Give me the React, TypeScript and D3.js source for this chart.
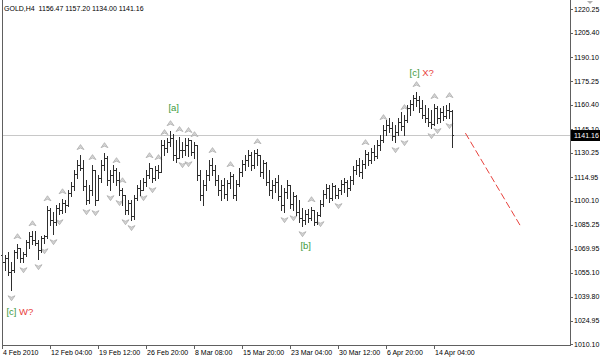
import * as d3 from "d3";

// GOLD H4 bars (open of each bar = close of the bar before)
const firstOpen = 1066.0;
const highs = [
  1069.1, 1066.0, 1067.9, 1061.6, 1069.1, 1072.9, 1070.4, 1067.9, 1075.4, 1080.4,
  1081.0, 1081.0, 1075.4, 1077.9, 1078.5, 1096.7, 1095.5, 1093.0, 1097.4, 1098.6,
  1101.1, 1100.5, 1106.8, 1111.8, 1119.4, 1125.6, 1128.8, 1125.6, 1113.1, 1109.9,
  1122.5, 1119.4, 1116.2, 1125.6, 1130.0, 1128.1, 1119.4, 1122.5, 1120.6, 1118.1,
  1108.0, 1103.7, 1100.5, 1100.5, 1103.7, 1109.9, 1113.1, 1114.3, 1119.4, 1123.7,
  1120.6, 1121.9, 1122.5, 1138.2, 1138.2, 1139.5, 1143.8, 1142.0, 1138.2, 1140.1,
  1136.9, 1139.5, 1139.5, 1138.2, 1136.9, 1135.1, 1119.4, 1113.1, 1119.4, 1125.6,
  1126.9, 1122.5, 1116.2, 1113.1, 1114.3, 1113.1, 1118.1, 1116.8, 1113.1, 1120.6,
  1125.6, 1128.8, 1131.9, 1130.7, 1131.9, 1132.5, 1128.8, 1125.6, 1124.4, 1119.4,
  1113.1, 1114.3, 1116.2, 1109.9, 1108.0, 1113.1, 1109.9, 1105.5, 1103.7, 1100.5,
  1095.5, 1094.2, 1094.9, 1096.1, 1094.2, 1093.0, 1100.5, 1106.8, 1110.6, 1109.9,
  1111.2, 1109.9, 1108.0, 1113.1, 1114.3, 1113.1, 1115.6, 1121.9, 1125.6, 1126.9,
  1125.6, 1131.9, 1130.7, 1133.2, 1135.1, 1138.2, 1141.3, 1147.6, 1150.7, 1152.0,
  1149.5, 1147.6, 1152.0, 1155.8, 1153.9, 1160.2, 1163.3, 1166.4, 1168.3, 1165.8,
  1163.3, 1160.2, 1158.3, 1157.0, 1160.8, 1159.5, 1158.3, 1159.5, 1160.2, 1161.4,
  1157.2,
];
const lows = [
  1057.8, 1056.6, 1053.4, 1044.0, 1055.3, 1064.1, 1061.6, 1061.6, 1065.3, 1070.4,
  1072.9, 1072.3, 1063.5, 1067.9, 1073.5, 1076.7, 1084.8, 1079.2, 1084.8, 1091.7,
  1092.4, 1093.0, 1096.7, 1103.0, 1106.8, 1114.3, 1119.4, 1106.8, 1098.0, 1098.6,
  1103.7, 1097.4, 1100.5, 1111.8, 1119.4, 1109.9, 1106.8, 1111.8, 1109.9, 1103.7,
  1097.4, 1091.7, 1091.7, 1088.0, 1088.6, 1100.5, 1103.7, 1106.8, 1109.3, 1114.3,
  1111.8, 1113.1, 1114.3, 1118.1, 1128.8, 1130.7, 1134.4, 1125.6, 1124.4, 1126.9,
  1127.5, 1128.8, 1128.1, 1128.8, 1126.9, 1113.1, 1100.5, 1097.4, 1106.8, 1113.1,
  1116.2, 1109.9, 1103.7, 1100.5, 1101.8, 1100.5, 1108.0, 1101.8, 1100.5, 1109.3,
  1115.6, 1119.4, 1121.9, 1119.4, 1120.6, 1122.5, 1115.6, 1114.3, 1109.9, 1103.7,
  1101.8, 1105.5, 1100.5, 1094.2, 1093.0, 1101.8, 1095.5, 1094.2, 1091.1, 1086.7,
  1084.2, 1085.4, 1086.7, 1088.0, 1084.8, 1085.4, 1090.5, 1096.7, 1101.8, 1099.3,
  1100.5, 1101.8, 1101.8, 1104.3, 1105.5, 1103.0, 1106.8, 1110.6, 1116.8, 1115.6,
  1114.3, 1120.6, 1122.5, 1123.7, 1125.6, 1126.9, 1131.9, 1136.9, 1141.3, 1143.2,
  1138.2, 1136.9, 1141.3, 1144.5, 1141.3, 1149.5, 1153.9, 1157.0, 1159.5, 1155.8,
  1152.0, 1149.5, 1147.0, 1145.7, 1147.6, 1148.9, 1149.5, 1150.7, 1152.0, 1152.0,
  1134.0,
];
const closes = [
  1061.6, 1064.1, 1055.3, 1056.6, 1067.9, 1070.4, 1064.1, 1066.6, 1074.1, 1077.9,
  1075.4, 1073.5, 1069.1, 1076.7, 1077.9, 1094.2, 1088.0, 1086.7, 1095.5, 1094.2,
  1098.6, 1097.4, 1104.9, 1109.3, 1116.8, 1122.5, 1120.6, 1109.3, 1100.5, 1106.8,
  1119.4, 1100.5, 1114.3, 1122.5, 1126.9, 1113.1, 1116.2, 1119.4, 1113.1, 1106.8,
  1103.7, 1094.2, 1098.6, 1090.5, 1101.8, 1108.0, 1106.8, 1111.8, 1116.2, 1120.6,
  1114.3, 1119.4, 1118.1, 1135.1, 1133.2, 1136.9, 1139.5, 1128.8, 1126.9, 1131.9,
  1131.9, 1135.1, 1138.2, 1130.7, 1135.1, 1116.2, 1103.7, 1109.9, 1116.2, 1122.5,
  1119.4, 1113.1, 1106.8, 1109.9, 1104.3, 1111.2, 1115.6, 1103.7, 1110.6, 1118.1,
  1123.1, 1125.6, 1128.8, 1122.5, 1130.0, 1128.8, 1118.1, 1123.7, 1111.8, 1106.8,
  1109.9, 1111.8, 1103.0, 1097.4, 1105.5, 1109.9, 1098.0, 1103.0, 1093.0, 1089.2,
  1088.0, 1091.7, 1089.2, 1094.2, 1086.7, 1091.1, 1098.0, 1104.3, 1108.0, 1101.8,
  1109.3, 1103.7, 1106.8, 1110.6, 1111.8, 1108.0, 1113.1, 1119.4, 1122.5, 1118.1,
  1123.1, 1129.4, 1125.6, 1130.7, 1128.1, 1135.1, 1138.2, 1144.5, 1147.6, 1145.7,
  1140.7, 1143.2, 1149.5, 1147.0, 1150.7, 1158.3, 1160.8, 1164.5, 1163.3, 1158.3,
  1153.9, 1152.0, 1149.5, 1148.2, 1158.3, 1152.0, 1155.8, 1153.3, 1157.0, 1156.47,
  1141.16,
];

// fractal arrows (bar indices)
const fractalUp = [5, 10, 15, 20, 26, 30, 34, 38, 40, 49, 52, 54, 56, 59, 62, 64, 70, 76, 85, 103, 121, 127, 134, 138, 144, 149];
const fractalDown = [3, 7, 12, 14, 17, 19, 28, 31, 36, 39, 41, 43, 47, 50, 60, 62, 94, 97, 100, 106, 112, 131, 134, 143, 145, 149];

const priceTicks = [1220.25, 1205.4, 1190.1, 1175.25, 1160.4, 1145.1, 1130.25, 1114.95, 1100.1, 1085.25, 1069.95, 1055.1, 1039.8, 1024.95, 1010.1];
const timeLabels = ["4 Feb 2010", "12 Feb 04:00", "19 Feb 12:00", "26 Feb 20:00", "8 Mar 08:00", "15 Mar 20:00", "23 Mar 04:00", "30 Mar 12:00", "6 Apr 20:00", "14 Apr 04:00"];
const timeIdx = [0, 16, 32, 48, 64, 80, 96, 112, 128, 144];

// wave labels: bar index, price, green part, red part
const waveIdx = [55.3, 99.3, 135.7, 1.3];
const wavePrice = [1158.9, 1072.3, 1180.9, 1030.8];
const waveGreen = ["[a]", "[b]", "[c]", "[c]"];
const waveRed = ["", "", " X?", " W?"];

// projected move (red dashed)
const projIdx = [154.3, 172.7];
const projPrice = [1142.6, 1084.2];

const header = "GOLD,H4  1156.47 1157.20 1134.00 1141.16";
const lastPrice = 1141.16;

const W = 600;
const H = 360;
const plotRight = 570;
const plotBottom = 345;
const font = "'Liberation Sans', Arial, sans-serif";

export default function App() {
  const x = d3.scaleLinear().domain([0, 150]).range([2.5, 452.5]);
  const y = d3.scaleLinear().domain([1010.1, 1220.25]).range([344.3, 9.3]);
  const opens = closes.map((_, i) => (i === 0 ? firstOpen : closes[i - 1]));
  const py = (v: number) => Math.round(y(v)) + 0.5;

  const upPath = "M-3.5,2.5L0,-2.5L3.5,2.5L0,1Z";
  const downPath = "M-3.5,-2.5L0,2.5L3.5,-2.5L0,-1Z";
  const proj = d3.line<number>().x((_, i) => x(projIdx[i])).y((d) => y(d));

  return (
    <svg width={W} height={H} style={{ position: "fixed", left: 0, top: 0, background: "#fff" }}>
      <rect width={W} height={H} fill="#fff" />

      {/* current price line */}
      <line x1={2} x2={plotRight} y1={py(lastPrice)} y2={py(lastPrice)} stroke="#c8c8c8" />

      {/* fractals */}
      {fractalUp.map((i) => (
        <path key={"u" + i} d={upPath} transform={`translate(${x(i)},${y(highs[i]) - 8})`}
          fill="#d4d4d4" stroke="#a8a8a8" strokeWidth={0.7} />
      ))}
      {fractalDown.map((i) => (
        <path key={"d" + i} d={downPath} transform={`translate(${x(i)},${y(lows[i]) + 8})`}
          fill="#d4d4d4" stroke="#a8a8a8" strokeWidth={0.7} />
      ))}

      {/* bars */}
      <g stroke="#2e2e2e" strokeWidth={1} shapeRendering="crispEdges">
        {closes.map((c, i) => (
          <g key={i}>
            <line x1={x(i)} x2={x(i)} y1={Math.round(y(highs[i]))} y2={Math.round(y(lows[i])) + 1} />
            <line x1={x(i) - 1.5} x2={x(i)} y1={py(opens[i])} y2={py(opens[i])} />
            <line x1={x(i)} x2={x(i) + 1.5} y1={py(c)} y2={py(c)} />
          </g>
        ))}
      </g>

      {/* projection */}
      <path d={proj(projPrice) ?? ""} fill="none" stroke="#e8413c" strokeWidth={1} strokeDasharray="7,3" />

      {/* wave labels */}
      {waveIdx.map((wi, k) => (
        <text key={k} x={x(wi)} y={y(wavePrice[k]) + 3.5} fontFamily={font} fontSize={9.5}>
          <tspan fill="#3d9a3d">{waveGreen[k]}</tspan>
          <tspan fill="#e8413c">{waveRed[k]}</tspan>
        </text>
      ))}

      {/* frame */}
      <g stroke="#606060" shapeRendering="crispEdges">
        <line x1={2.5} x2={2.5} y1={0} y2={plotBottom} />
        <line x1={plotRight + 0.5} x2={plotRight + 0.5} y1={0} y2={plotBottom + 1} />
        <line x1={2} x2={plotRight + 1} y1={plotBottom + 0.5} y2={plotBottom + 0.5} />
      </g>

      {/* price axis */}
      {priceTicks.map((t) => (
        <g key={t}>
          <line x1={plotRight} x2={plotRight + 3} y1={py(t)} y2={py(t)} stroke="#606060" shapeRendering="crispEdges" />
          <text x={plotRight + 4} y={y(t) + 2.5} fontFamily={font} fontSize={7} fill="#000">
            {t.toFixed(2)}
          </text>
        </g>
      ))}
      <rect x={plotRight + 1} y={Math.round(y(lastPrice)) - 5} width={29} height={11} fill="#000" />
      <text x={plotRight + 4} y={y(lastPrice) + 2.5} fontFamily={font} fontSize={7} fill="#fff">
        {lastPrice.toFixed(2)}
      </text>

      {/* time axis */}
      {timeIdx.map((ti, k) => (
        <g key={ti}>
          <line x1={Math.floor(x(ti)) + 0.5} x2={Math.floor(x(ti)) + 0.5} y1={plotBottom} y2={plotBottom + 4}
            stroke="#606060" shapeRendering="crispEdges" />
          <text x={Math.floor(x(ti)) + 1} y={plotBottom + 10} fontFamily={font} fontSize={7} fill="#000">
            {timeLabels[k]}
          </text>
        </g>
      ))}

      {/* header */}
      <text x={4} y={11} fontFamily={font} fontSize={7} fill="#000" xmlSpace="preserve">
        {header}
      </text>
      <path d="M587,1L593,1L590,4Z" fill="#b0b0b0" />
    </svg>
  );
}
